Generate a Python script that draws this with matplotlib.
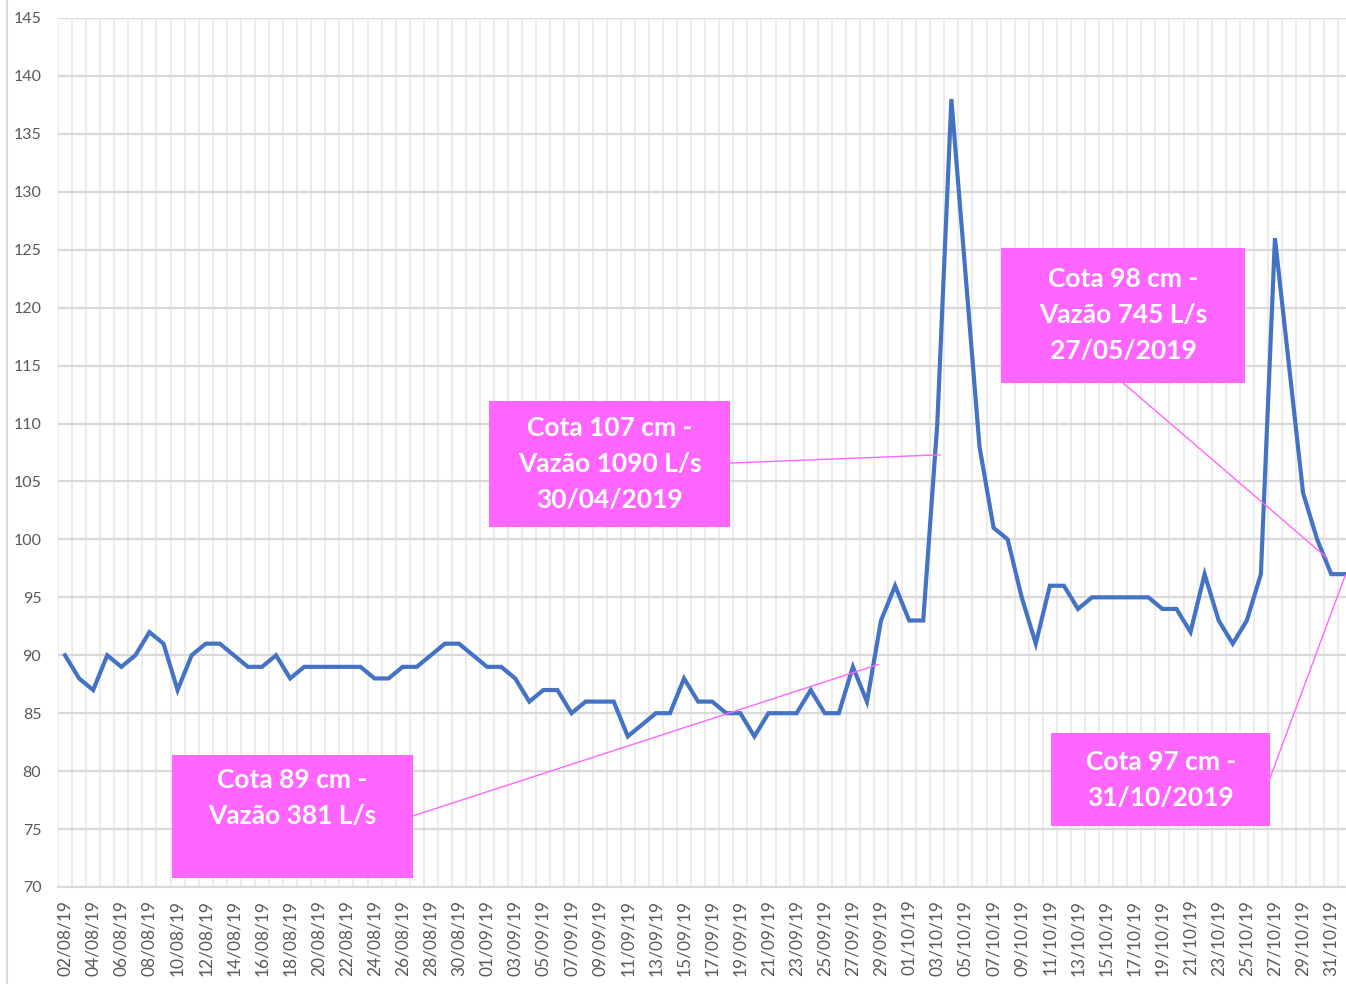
import pandas as pd
import matplotlib
matplotlib.use("Agg")
import matplotlib.pyplot as plt
from matplotlib.patches import Rectangle
from matplotlib.lines import Line2D

# daily dates, 02/08/2019 .. 01/11/2019
dates = pd.date_range("2019-08-02", "2019-11-01", freq="D")
date_labels = [d.strftime("%d/%m/%y") for d in dates]

# water level (cota, cm)
cota = [90, 88, 87, 90, 89, 90, 92, 91, 87, 90,
        91, 91, 90, 89, 89, 90, 88, 89, 89, 89,
        89, 89, 88, 88, 89, 89, 90, 91, 91, 90,
        89, 89, 88, 86, 87, 87, 85, 86, 86, 86,
        83, 84, 85, 85, 88, 86, 86, 85, 85, 83,
        85, 85, 85, 87, 85, 85, 89, 86, 93, 96,
        93, 93, 110, 138, 123, 108, 101, 100, 95, 91,
        96, 96, 94, 95, 95, 95, 95, 95, 94, 94,
        92, 97, 93, 91, 93, 97, 126, 115, 104, 100,
        97, 97]

# annotation texts
notes = ["Cota 107 cm -\nVazão 1090 L/s\n30/04/2019",
         "Cota 98 cm -\nVazão 745 L/s\n27/05/2019",
         "Cota 89 cm -\nVazão 381 L/s\n",
         "Cota 97 cm -\n31/10/2019"]

pink = "#FF66FF"
grey = "#595959"

fig = plt.figure(figsize=(13.46, 9.84), dpi=100)
ax = fig.add_axes([58 / 1346, 1 - 887 / 984, 1 - 58 / 1346, (887 - 18) / 984])

n = len(cota)
x = list(range(n))

# vertical category gridlines (between categories)
for b in range(n):
    ax.axvline(b - 0.5, color="#ececec", lw=1.4, zorder=0)
for v in range(75, 150, 5):
    ax.axhline(v, color="#d9d9d9", lw=1.6, zorder=0.5)

ax.plot(x, cota, color="#4472C4", lw=3.0, solid_joinstyle="miter", zorder=3)

ax.set_xlim(-0.5, 91.05)
ax.set_ylim(70, 145)
ax.set_yticks(range(70, 150, 5))
ax.set_xticks(x[::2])
ax.set_xticklabels(date_labels[::2], rotation=90, fontsize=12.5, color=grey,
                   family="Lato")
for lab in ax.get_yticklabels():
    lab.set_fontsize(11.5)
    lab.set_color(grey)
    lab.set_family("Lato")
ax.tick_params(axis="both", length=0)
ax.tick_params(axis="y", pad=12)
ax.tick_params(axis="x", pad=9)
for s in ["top", "right", "left"]:
    ax.spines[s].set_visible(False)
ax.spines["bottom"].set_color("#d9d9d9")
ax.spines["bottom"].set_linewidth(1.6)

# boxes: (x0, x1, y0, y1), line start, line end (data coords)
boxes = [(30.11, 47.30, 101.07, 111.94),
         (66.55, 83.88, 113.50, 125.15),
         (7.60, 24.72, 70.78, 81.39),
         (70.10, 85.65, 75.26, 83.29)]
starts = [(47.30, 106.59), (75.21, 113.50), (24.72, 76.13), (85.65, 79.41)]
ends = [(62.2, 107.3), (89.7, 98.4), (57.8, 89.2), (91.0, 96.9)]

for (x0, x1, y0, y1), s, e, t in zip(boxes, starts, ends, notes):
    ax.add_line(Line2D([s[0], e[0]], [s[1], e[1]], color=pink, lw=1.0,
                       zorder=4, clip_on=False))
    ax.add_patch(Rectangle((x0, y0), x1 - x0, y1 - y0, facecolor=pink,
                           edgecolor="none", zorder=5))
    ax.text((x0 + x1) / 2, (y0 + y1) / 2, t, ha="center", va="center",
            color="white", fontsize=19, fontweight="bold", family="Lato",
            linespacing=1.6, zorder=6)

# chart border line at left
fig.add_artist(Line2D([7 / 1346, 7 / 1346], [0, 1], color="#d9d9d9", lw=1.5))

fig.savefig("out.png", dpi=100)
